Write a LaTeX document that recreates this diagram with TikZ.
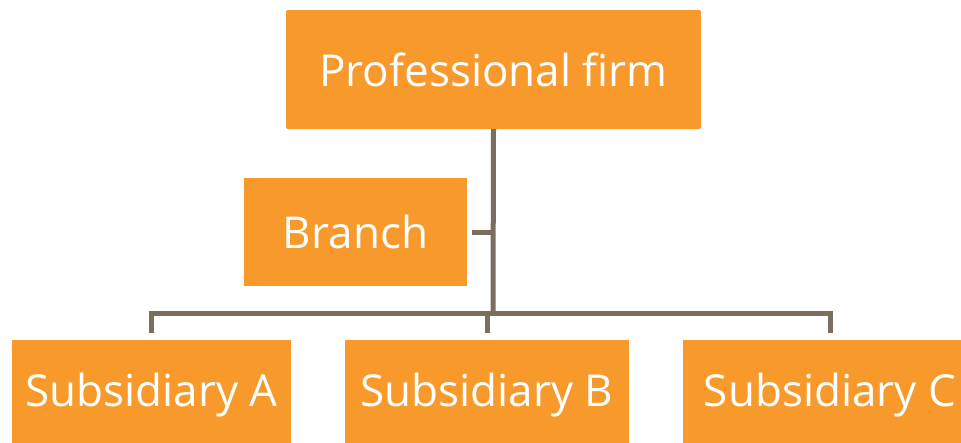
\documentclass[tikz,border=0pt]{standalone}
\usepackage{fontspec}
\setmainfont{Open Sans}
\definecolor{boxorange}{HTML}{F7992B}
\definecolor{linegrey}{HTML}{7A6E5E}
\begin{document}
\begin{tikzpicture}[x=1pt,y=-1pt,
  orgbox/.style={fill=boxorange, draw=none, text=white, inner sep=0pt,
    font=\fontsize{44}{50}\selectfont, anchor=center},
  conn/.style={draw=linegrey, line width=5pt}]
\useasboundingbox (0,0) rectangle (961,442);
\clip (0,0) rectangle (961,442);
\node[orgbox, minimum width=415pt, minimum height=119pt, rounded corners=2pt] (top) at (493.5,69.5) {Professional firm};
\node[orgbox, minimum width=223pt, minimum height=108pt] (branch) at (355.5,232) {Branch};
\node[orgbox, minimum width=279pt, minimum height=110pt] (subA) at (151.5,395) {Subsidiary A};
\node[orgbox, minimum width=284pt, minimum height=110pt] (subB) at (487,395) {Subsidiary B};
\node[orgbox, minimum width=294pt, minimum height=110pt] (subC) at (830,395) {Subsidiary C};
\coordinate (bar) at (493,313);
\draw[conn] (top.south) -- (bar);
\draw[conn] ([xshift=5pt]branch.east) -- (branch.east -| bar);
\draw[conn] ([yshift=7pt]subA.north) |- (bar);
\draw[conn] ([yshift=7pt]subC.north) |- (bar);
\draw[conn] ([yshift=7pt]subB.north) -- (subB.north |- bar);
\end{tikzpicture}
\end{document}
